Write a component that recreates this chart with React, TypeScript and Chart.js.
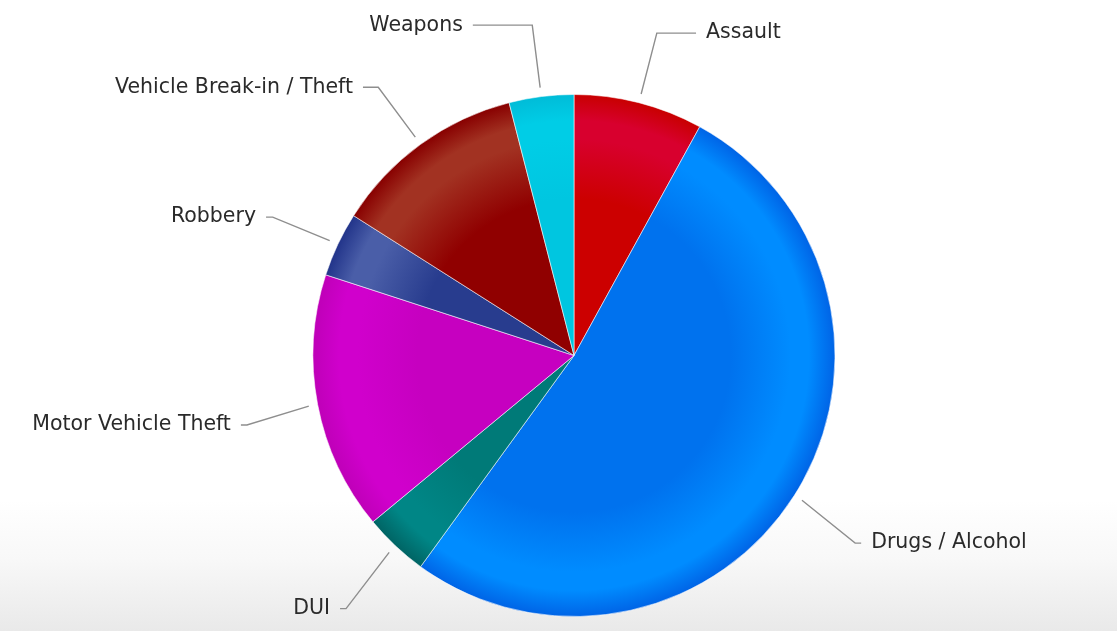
import React, { useEffect, useRef } from "react";
import { Chart, registerables } from "chart.js";

Chart.register(...registerables);

const categories = [
  "Assault",
  "Drugs / Alcohol",
  "DUI",
  "Motor Vehicle Theft",
  "Robbery",
  "Vehicle Break-in / Theft",
  "Weapons",
];
const counts = [2, 13, 1, 4, 1, 3, 1];
const baseColors = ["#cc0000", "#0072ee", "#007a78", "#c600c0", "#283c8e", "#900000", "#00c6e0"];
const ringColors = ["#d8002e", "#008cff", "#008686", "#d000cc", "#4a5ea8", "#a23222", "#00cde6"];
const edgeColors = ["#c80000", "#0064e6", "#006464", "#bf00b8", "#22348a", "#880000", "#00bcd8"];

const W = 1117;
const H = 631;
const RADIUS = 261;

function sliceFill(ctx: any) {
  const i = ctx.dataIndex;
  const chart = ctx.chart;
  const area = chart.chartArea;
  if (!area) return baseColors[i];
  const cx = (area.left + area.right) / 2;
  const cy = (area.top + area.bottom) / 2;
  const g = chart.ctx.createRadialGradient(cx, cy, 0, cx, cy, RADIUS);
  g.addColorStop(0, baseColors[i]);
  g.addColorStop(0.6, baseColors[i]);
  g.addColorStop(0.83, ringColors[i]);
  g.addColorStop(0.9, ringColors[i]);
  g.addColorStop(1, edgeColors[i]);
  return g;
}

const labelPlugin = {
  id: "outsideLabels",
  afterDatasetsDraw(chart: any) {
    const meta = chart.getDatasetMeta(0);
    const c = chart.ctx;
    c.save();
    c.font = '20.5px "DejaVu Sans", sans-serif';
    c.textBaseline = "middle";
    meta.data.forEach((arc: any, i: number) => {
      const p = arc.getProps(["x", "y", "startAngle", "endAngle", "outerRadius"], true);
      const mid = (p.startAngle + p.endAngle) / 2;
      const cos = Math.cos(mid);
      const sin = Math.sin(mid);
      const r = p.outerRadius;
      const right = cos >= 0;
      const ly = p.y + 6 + sin * (r + 78);
      const bx = p.x + cos * (r + 72);
      const ex = p.x + cos * (r + 9);
      const ey = p.y + sin * (r + 9);
      const R = r + 88.5;
      const dy = ly - p.y;
      const cdx = Math.sqrt(Math.max(0, R * R - dy * dy)) - 13;
      const ax = right ? Math.max(bx + 6, p.x + cdx) : Math.min(bx - 6, p.x - cdx);
      c.strokeStyle = "#8e8e8e";
      c.lineWidth = 1.4;
      c.beginPath();
      c.moveTo(ax, ly);
      c.lineTo(bx, ly);
      c.lineTo(ex, ey);
      c.stroke();
      c.fillStyle = "#2a2a2a";
      c.textAlign = right ? "left" : "right";
      c.fillText(categories[i], right ? ax + 10 : ax - 10, ly);
    });
    c.restore();
  },
};

export default function App() {
  const ref = useRef<HTMLCanvasElement>(null);
  useEffect(() => {
    document.body.style.margin = "0";
    const chart = new Chart(ref.current as HTMLCanvasElement, {
      type: "pie",
      data: {
        labels: categories,
        datasets: [
          {
            data: counts,
            backgroundColor: sliceFill as any,
            borderColor: "rgba(255,255,255,0.55)",
            borderWidth: 1,
            radius: RADIUS,
          } as any,
        ],
      },
      options: {
        responsive: false,
        animation: false,
        devicePixelRatio: 1,
        layout: { padding: { top: 94, bottom: 14, left: 300, right: 269 } },
        plugins: {
          legend: { display: false },
          tooltip: { enabled: false },
        },
      },
      plugins: [labelPlugin],
    });
    return () => chart.destroy();
  }, []);
  return (
    <div
      style={{
        width: W,
        height: H,
        background:
          "linear-gradient(to bottom, #ffffff 0px, #ffffff 500px, #f8f8f8 560px, #e9e9e9 631px)",
      }}
    >
      <canvas ref={ref} width={W} height={H} style={{ display: "block" }} />
    </div>
  );
}
